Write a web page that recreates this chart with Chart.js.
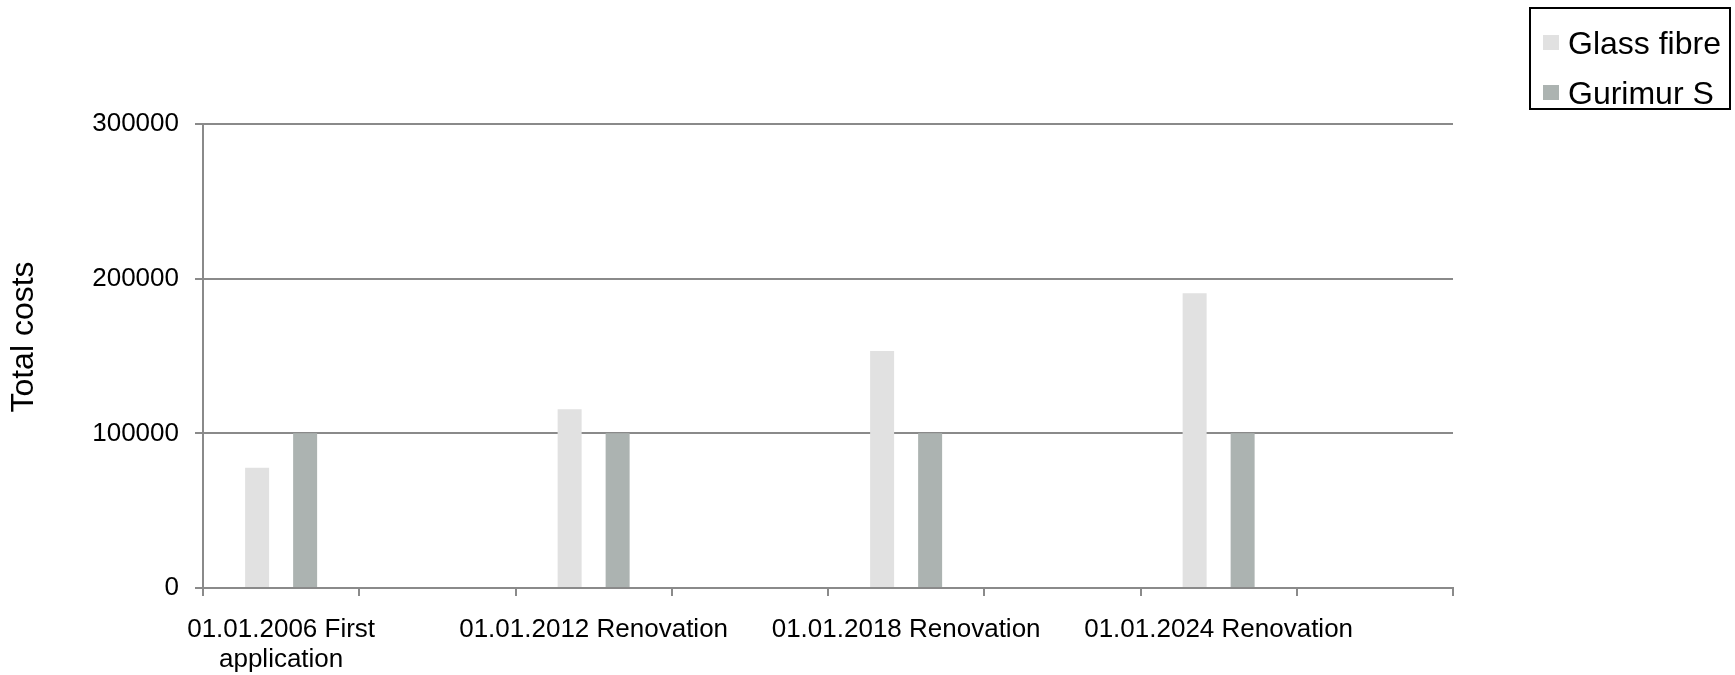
<!DOCTYPE html>
<html>
<head>
<meta charset="utf-8">
<script src="https://cdn.jsdelivr.net/npm/chart.js@4"></script>
<style>
  html, body { margin: 0; padding: 0; background: #ffffff; }
  #wrap { position: relative; width: 1735px; height: 675px; }
  #c { position: absolute; left: 0; top: 0; }
  #legend {
    position: absolute; left: 1529px; top: 7px; width: 202px; height: 103px;
    box-sizing: border-box; border: 2px solid #000; background: #fff;
    font-family: "Liberation Sans", Arial, sans-serif; font-size: 32px; color: #000;
  }
  .item { position: absolute; left: 12px; height: 36px; line-height: 36px; white-space: nowrap; }
  .sw { position: absolute; left: 0; top: 10px; width: 16px; height: 15px; }
  .lbl { position: absolute; left: 25px; top: 0; }
</style>
</head>
<body>
<div id="wrap">
  <canvas id="c" width="1735" height="675"></canvas>
  <div id="legend"></div>
</div>
<script>
// ---- data ----
const categories = [["01.01.2006 First", "application"], "", "01.01.2012 Renovation", "", "01.01.2018 Renovation", "", "01.01.2024 Renovation", ""];
const seriesNames = ["Glass fibre", "Gurimur S"];
const glassFibre = [77800, null, 115500, null, 153200, null, 190600, null];
const gurimurS = [100000, null, 100000, null, 100000, null, 100000, null];
const yTickLabels = ["0", "100000", "200000", "300000"];
const yAxisTitle = "Total costs";

// ---- styles ----
const FONT = "'Liberation Sans', Arial, sans-serif";
const colors = ["#e1e1e1", "#acb3b1"];
const axisGray = "#8a8a8a";

// y-axis title drawn slightly above the chart-area middle, as in the reference
const yTitlePlugin = {
  id: 'yTitle',
  afterDraw(chart) {
    const ctx = chart.ctx;
    ctx.save();
    ctx.translate(24, 337);
    ctx.rotate(-Math.PI / 2);
    ctx.font = "32px " + FONT;
    ctx.fillStyle = '#000';
    ctx.textAlign = 'center';
    ctx.textBaseline = 'middle';
    ctx.fillText(yAxisTitle, 0, 0);
    ctx.restore();
  }
};

const chart = new Chart(document.getElementById('c'), {
  type: 'bar',
  data: {
    labels: categories,
    datasets: [
      { label: seriesNames[0], data: glassFibre, backgroundColor: colors[0], borderWidth: 0 },
      { label: seriesNames[1], data: gurimurS, backgroundColor: colors[1], borderWidth: 0 }
    ]
  },
  plugins: [yTitlePlugin],
  options: {
    responsive: false,
    animation: false,
    devicePixelRatio: 1,
    categoryPercentage: 96 / 156.25,
    barPercentage: 0.5,
    layout: { padding: { left: 0, right: 282, top: 124, bottom: 0 } },
    plugins: { legend: { display: false }, tooltip: { enabled: false } },
    scales: {
      x: {
        offset: true,
        grid: { offset: true, drawOnChartArea: false, drawTicks: true, tickLength: 8, color: axisGray, lineWidth: 2 },
        border: { display: true, color: axisGray, width: 2 },
        ticks: {
          autoSkip: false, maxRotation: 0, minRotation: 0, padding: 19,
          color: '#000', font: { family: FONT, size: 26, lineHeight: 1.15 }
        },
        afterFit: (s) => { s.height = 87; }
      },
      y: {
        min: 0, max: 300000,
        ticks: {
          stepSize: 100000, padding: 16, color: '#000',
          font: { family: FONT, size: 26 },
          callback: (v) => yTickLabels[Math.round(v / 100000)]
        },
        grid: { color: axisGray, lineWidth: 2, drawTicks: true, tickLength: 8 },
        border: { display: true, color: axisGray, width: 2 },
        afterFit: (s) => { s.width = 203; }
      }
    }
  }
});

// legend built from the chart's datasets
const lg = document.getElementById('legend');
chart.data.datasets.forEach((ds, i) => {
  const it = document.createElement('div');
  it.className = 'item';
  it.style.top = (16 + i * 50) + 'px';
  it.innerHTML = '<span class="sw" style="background:' + ds.backgroundColor + '"></span><span class="lbl">' + ds.label + '</span>';
  lg.appendChild(it);
});
</script>
</body>
</html>
